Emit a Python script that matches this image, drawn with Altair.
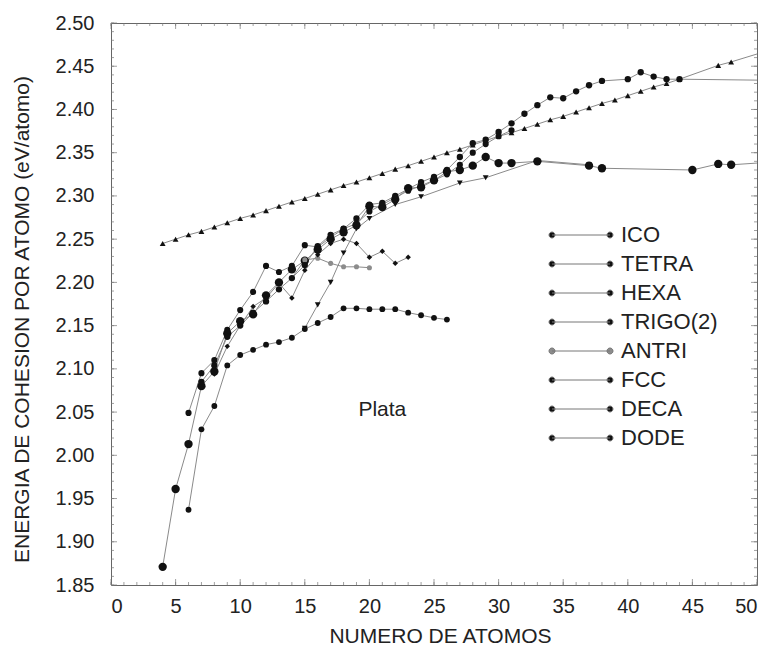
import altair as alt
import pandas as pd
import numpy as np

# Cohesive energy per atom of silver clusters vs. number of atoms
SERIES = ["ICO", "TETRA", "HEXA", "TRIGO(2)", "ANTRI", "FCC", "DECA", "DODE"]

ico_n = [4, 5, 6, 7, 8, 9, 10, 11, 12, 13, 14, 15, 16, 17, 18, 19, 20, 21, 22, 23, 24,
         25, 26, 27, 28, 29, 30, 31, 32, 33, 34, 35, 36, 37, 38, 39, 40, 41, 42, 43, 44,
         47, 48, 55]
ico_e = [2.245, 2.250, 2.255, 2.259, 2.264, 2.269, 2.274, 2.278, 2.283, 2.288, 2.293,
         2.297, 2.302, 2.307, 2.312, 2.316, 2.321, 2.326, 2.331, 2.335, 2.340, 2.345,
         2.350, 2.354, 2.359, 2.364, 2.369, 2.373, 2.378, 2.383, 2.388, 2.392, 2.397,
         2.402, 2.407, 2.411, 2.416, 2.421, 2.426, 2.430, 2.435, 2.451, 2.455, 2.487]

tetra_n = [6, 7, 8, 9, 10, 11, 12, 13, 14, 15, 16, 17, 18, 19, 20, 21, 22, 23, 24, 25,
           26, 27, 28, 29, 30, 31]
tetra_e = [2.049, 2.095, 2.110, 2.145, 2.168, 2.189, 2.219, 2.212, 2.219, 2.243, 2.241,
           2.252, 2.262, 2.268, 2.282, 2.290, 2.298, 2.306, 2.312, 2.318, 2.325, 2.336,
           2.350, 2.360, 2.369, 2.376]

hexa_n = [4, 5, 6, 7, 8, 9, 10, 11, 12, 13, 14, 15, 16, 17, 18, 19, 20, 21, 22, 23, 24,
          25, 26, 27, 28, 29, 30, 31, 33, 37, 38, 45, 47, 48, 55]
hexa_e = [1.871, 1.961, 2.013, 2.080, 2.097, 2.141, 2.155, 2.163, 2.185, 2.200, 2.215,
          2.225, 2.238, 2.250, 2.258, 2.266, 2.288, 2.287, 2.296, 2.309, 2.310, 2.318,
          2.328, 2.330, 2.335, 2.345, 2.338, 2.338, 2.340, 2.335, 2.332, 2.330, 2.337,
          2.336, 2.343]

trigo_n = [15, 16, 17, 18, 19, 20, 22, 24, 27, 29, 33, 37]
trigo_e = [2.147, 2.174, 2.200, 2.234, 2.262, 2.274, 2.290, 2.299, 2.315, 2.321, 2.341,
           2.336]

antri_n = [14, 15, 16, 17, 18, 19, 20]
antri_e = [2.205, 2.226, 2.228, 2.222, 2.218, 2.218, 2.217]

fcc_n = [7, 8, 9, 10, 11, 12, 13, 14, 15, 16, 17, 18, 19, 20, 21, 22, 23, 24, 25, 26,
         27, 28, 29, 30, 31, 32, 33, 34, 35, 36, 37, 38, 40, 41, 42, 43, 44, 55]
fcc_e = [2.085, 2.104, 2.137, 2.150, 2.165, 2.178, 2.192, 2.205, 2.220, 2.242, 2.255,
         2.262, 2.274, 2.290, 2.292, 2.300, 2.308, 2.316, 2.322, 2.330, 2.345, 2.361,
         2.365, 2.374, 2.384, 2.395, 2.405, 2.414, 2.413, 2.421, 2.428, 2.433, 2.435,
         2.443, 2.438, 2.435, 2.435, 2.433]

deca_n = [6, 7, 8, 9, 10, 11, 12, 13, 14, 15, 16, 17, 18, 19, 20, 21, 22, 23, 24, 25, 26]
deca_e = [1.937, 2.030, 2.057, 2.104, 2.116, 2.122, 2.128, 2.131, 2.136, 2.146, 2.153,
          2.160, 2.170, 2.170, 2.169, 2.169, 2.169, 2.165, 2.162, 2.159, 2.157]

dode_n = [8, 9, 10, 11, 12, 13, 14, 15, 16, 17, 18, 19, 20, 21, 22, 23]
dode_e = [2.094, 2.126, 2.150, 2.172, 2.182, 2.199, 2.182, 2.214, 2.232, 2.245, 2.250,
          2.245, 2.229, 2.236, 2.222, 2.229]

MARK_COLORS = ["#111111", "#111111", "#111111", "#111111", "#8c8c8c", "#111111", "#111111", "#111111"]
MARK_SHAPES = ["triangle-up", "circle", "circle", "triangle-down", "circle", "circle", "circle", "diamond"]
MARK_SIZES = [34, 38, 70, 34, 26, 40, 34, 30]

X_TICKS = [0, 5, 10, 15, 20, 25, 30, 35, 40, 45, 50]
Y_TICKS = [1.85, 1.90, 1.95, 2.00, 2.05, 2.10, 2.15, 2.20, 2.25, 2.30, 2.35, 2.40, 2.45, 2.50]

cols = {
    "ICO": (ico_n, ico_e), "TETRA": (tetra_n, tetra_e), "HEXA": (hexa_n, hexa_e),
    "TRIGO(2)": (trigo_n, trigo_e), "ANTRI": (antri_n, antri_e), "FCC": (fcc_n, fcc_e),
    "DECA": (deca_n, deca_e), "DODE": (dode_n, dode_e),
}
df = pd.concat(
    [pd.DataFrame({"serie": k, "n": v[0], "e": v[1]}) for k, v in cols.items()],
    ignore_index=True,
)

W, H = 646, 562
FONT = "Liberation Sans"
xs = alt.Scale(domain=[0, 50], nice=False)
ys = alt.Scale(domain=[1.85, 2.50], nice=False, zero=False)

x_axis = alt.Axis(values=X_TICKS, format="d", title="NUMERO DE ATOMOS",
                  titleX=329, titleY=51, titleBaseline="middle", titleFontSize=21)
y_axis = alt.Axis(values=Y_TICKS, format=".2f",
                  title="ENERGIA DE COHESION POR ATOMO (eV/atomo)",
                  titleX=-89, titleY=296, titleBaseline="middle", titleFontSize=21)

# legend glyph: short line with a dot at each end
GLYPH = ("M-5.8,0L5.8,0"
         "M-6.4,0a0.6,0.6 0 1,0 1.2,0a0.6,0.6 0 1,0 -1.2,0"
         "M5.2,0a0.6,0.6 0 1,0 1.2,0a0.6,0.6 0 1,0 -1.2,0")

legend = alt.Legend(
    title=None, orient="none", legendX=459, legendY=201,
    symbolType=GLYPH, symbolSize=100, symbolStrokeWidth=1,
    symbolStrokeColor="#777777", labelFont=FONT, labelFontSize=22,
    labelColor="#222222", labelOffset=29, rowPadding=7, padding=0,
)
color = alt.Color("serie:N", scale=alt.Scale(domain=SERIES, range=MARK_COLORS), legend=legend)

lines = alt.Chart(df).mark_line(color="#8a8a8a", strokeWidth=1, clip=True).encode(
    x=alt.X("n:Q", scale=xs, axis=x_axis),
    y=alt.Y("e:Q", scale=ys, axis=y_axis),
    detail="serie:N",
    order="n:Q",
)

# one marker layer per series, each with its own symbol and size
marker_layers = []
for name, shape, size in zip(SERIES, MARK_SHAPES, MARK_SIZES):
    marker_layers.append(
        alt.Chart(df).transform_filter(alt.datum.serie == name)
        .mark_point(filled=True, opacity=1, clip=True, shape=shape, size=size)
        .encode(x=alt.X("n:Q", scale=xs), y=alt.Y("e:Q", scale=ys), color=color)
    )

label = alt.Chart(pd.DataFrame({"n": [21.0], "e": [2.052], "t": ["Plata"]})).mark_text(
    font=FONT, fontSize=21, color="#222222", align="center", baseline="middle"
).encode(x=alt.X("n:Q", scale=xs), y=alt.Y("e:Q", scale=ys), text="t:N")

# inward frame ticks on all four sides
x_minor = pd.DataFrame({"n": list(range(0, 51))})
x_major = pd.DataFrame({"n": X_TICKS})
y_minor = pd.DataFrame({"e": [round(v, 2) for v in np.arange(1.85, 2.5001, 0.01)]})
y_major = pd.DataFrame({"e": Y_TICKS})

def xticks(d, length):
    base = alt.Chart(d).mark_tick(color="#777777", thickness=1, size=length)
    return (base.encode(x=alt.X("n:Q", scale=xs), y=alt.value(H - length / 2))
            + base.encode(x=alt.X("n:Q", scale=xs), y=alt.value(length / 2)))

def yticks(d, length):
    base = alt.Chart(d).mark_tick(color="#777777", thickness=1, size=length)
    return (base.encode(y=alt.Y("e:Q", scale=ys), x=alt.value(length / 2))
            + base.encode(y=alt.Y("e:Q", scale=ys), x=alt.value(W - length / 2)))

chart = alt.layer(
    xticks(x_minor, 3), xticks(x_major, 6), yticks(y_minor, 3), yticks(y_major, 6),
    lines, *marker_layers, label,
).properties(
    width=W, height=H,
    autosize=alt.AutoSizeParams(type="none"),
    padding={"left": 111, "top": 23, "right": 18, "bottom": 65},
).configure_view(
    stroke="#666666", strokeWidth=1
).configure_axis(
    grid=False, ticks=False, domain=False,
    labelFont=FONT, labelFontSize=20, labelColor="#222222",
    titleFont=FONT, titleFontWeight="normal", titleColor="#222222",
).configure_axisX(
    labelPadding=11
).configure_axisY(
    labelPadding=17
)

chart.save("out.html", embed_options={"renderer": "svg", "actions": False})
